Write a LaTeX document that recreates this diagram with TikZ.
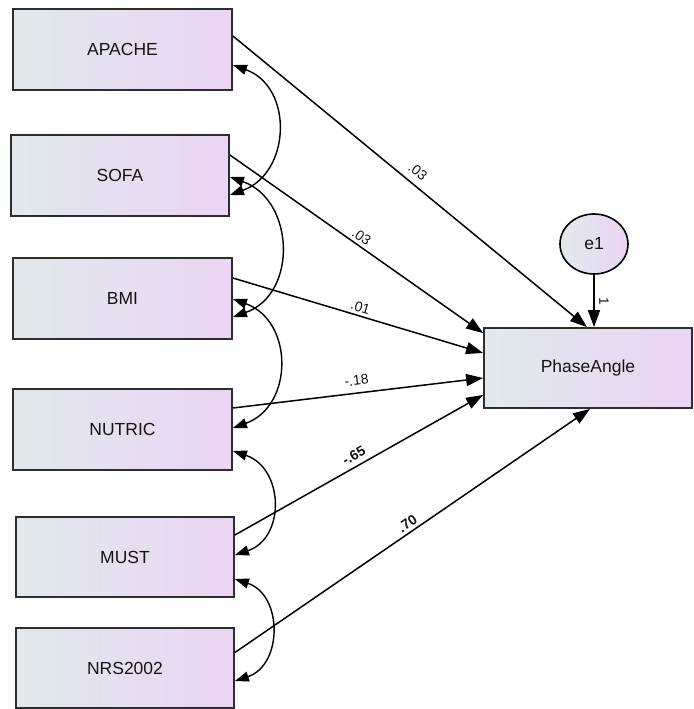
\documentclass[tikz,border=0pt]{standalone}
\usepackage{fontspec}
\setmainfont{Liberation Sans}
\usetikzlibrary{arrows.meta,shapes.geometric,calc}
\definecolor{boxL}{RGB}{225,233,236}
\definecolor{boxR}{RGB}{234,213,243}
\definecolor{edgeC}{RGB}{45,45,45}
\definecolor{txt}{RGB}{20,20,20}
\tikzset{
  var/.style={draw=edgeC, line width=1.8pt, left color=boxL, right color=boxR,
    text=txt, font=\fontsize{17.5}{20}\selectfont, inner sep=0pt},
  err/.style={ellipse, draw=black, line width=1.6pt, left color=boxL, right color=boxR,
    minimum width=68pt, minimum height=60pt, inner sep=0pt, text=txt,
    font=\fontsize{17.5}{20}\selectfont},
  reg/.style={line width=1.5pt, -{Triangle[length=17pt,width=12pt]}},
  cov/.style={line width=1.4pt, {Triangle[length=14pt,width=10pt]}-{Triangle[length=14pt,width=10pt]}},
  coef/.style={font=\fontsize{14}{16}\selectfont, sloped, inner sep=0pt, text=txt},
}
\begin{document}
\begin{tikzpicture}[x=1pt,y=-1pt]
\useasboundingbox (0,0) rectangle (693,709);
% observed variables
\node[var, minimum width=219pt, minimum height=81pt] (apache) at (122.5,49.5) {APACHE};
\node[var, minimum width=218pt, minimum height=81pt] (sofa) at (120,175.5) {SOFA};
\node[var, minimum width=219pt, minimum height=81pt] (bmi) at (122.5,298.5) {BMI};
\node[var, minimum width=219pt, minimum height=81pt] (nutric) at (122.5,429.5) {NUTRIC};
\node[var, minimum width=218pt, minimum height=80pt] (must) at (125,557) {MUST};
\node[var, minimum width=218pt, minimum height=80pt] (nrs) at (125,668) {NRS2002};
\node[var, minimum width=208pt, minimum height=80pt] (phase) at (588,368) {PhaseAngle};
\node[err] (e1) at (594,244) {e1};
% regression paths
\draw[reg] ([yshift=13.5pt]apache.east) -- node[coef, above=7pt]{.03} ([xshift=-1pt]phase.north);
\draw[reg] ([yshift=20.5pt]sofa.east) -- node[coef, above=3pt]{.03} ([yshift=-6pt]phase.north west);
\draw[reg] ([yshift=20.5pt]bmi.east) -- node[coef, above=3pt]{.01} ([yshift=15pt]phase.west);
\draw[reg] ([yshift=21.5pt]nutric.east) -- node[coef, above=7pt]{-.18} ([yshift=-10pt]phase.west);
\draw[reg] ([yshift=22pt]must.east) -- node[coef, above=5pt, font=\fontsize{14}{16}\selectfont\bfseries]{-.65} ([yshift=14pt]phase.south west);
\draw[reg] ([yshift=15.5pt]nrs.east) -- node[coef, above=3pt, font=\fontsize{14}{16}\selectfont\bfseries]{.70} ([xshift=2pt]phase.south);
\draw[reg] (e1.south) -- node[font=\fontsize{13.5}{15}\selectfont, inner sep=0pt, xshift=10pt, rotate=-90, text=txt]{1} (e1.south |- phase.north);
% covariances
\draw[cov] ([yshift=-15.5pt]apache.east) .. controls +(61,22) and +(61,-22) .. ([yshift=-19.5pt]sofa.east);
\draw[cov] ([yshift=-1.5pt]sofa.east) .. controls +(65,23) and +(65,-23) .. ([yshift=-18.5pt]bmi.east);
\draw[cov] ([yshift=-0.5pt]bmi.east) .. controls +(61,22) and +(61,-22) .. ([yshift=1.5pt]nutric.east);
\draw[cov] ([yshift=-21.5pt]nutric.east) .. controls +(51,17) and +(51,-17) .. ([yshift=2pt]must.east);
\draw[cov] ([yshift=-22pt]must.east) .. controls +(48,16) and +(48,-16) .. ([yshift=-13pt]nrs.east);
\end{tikzpicture}
\end{document}
